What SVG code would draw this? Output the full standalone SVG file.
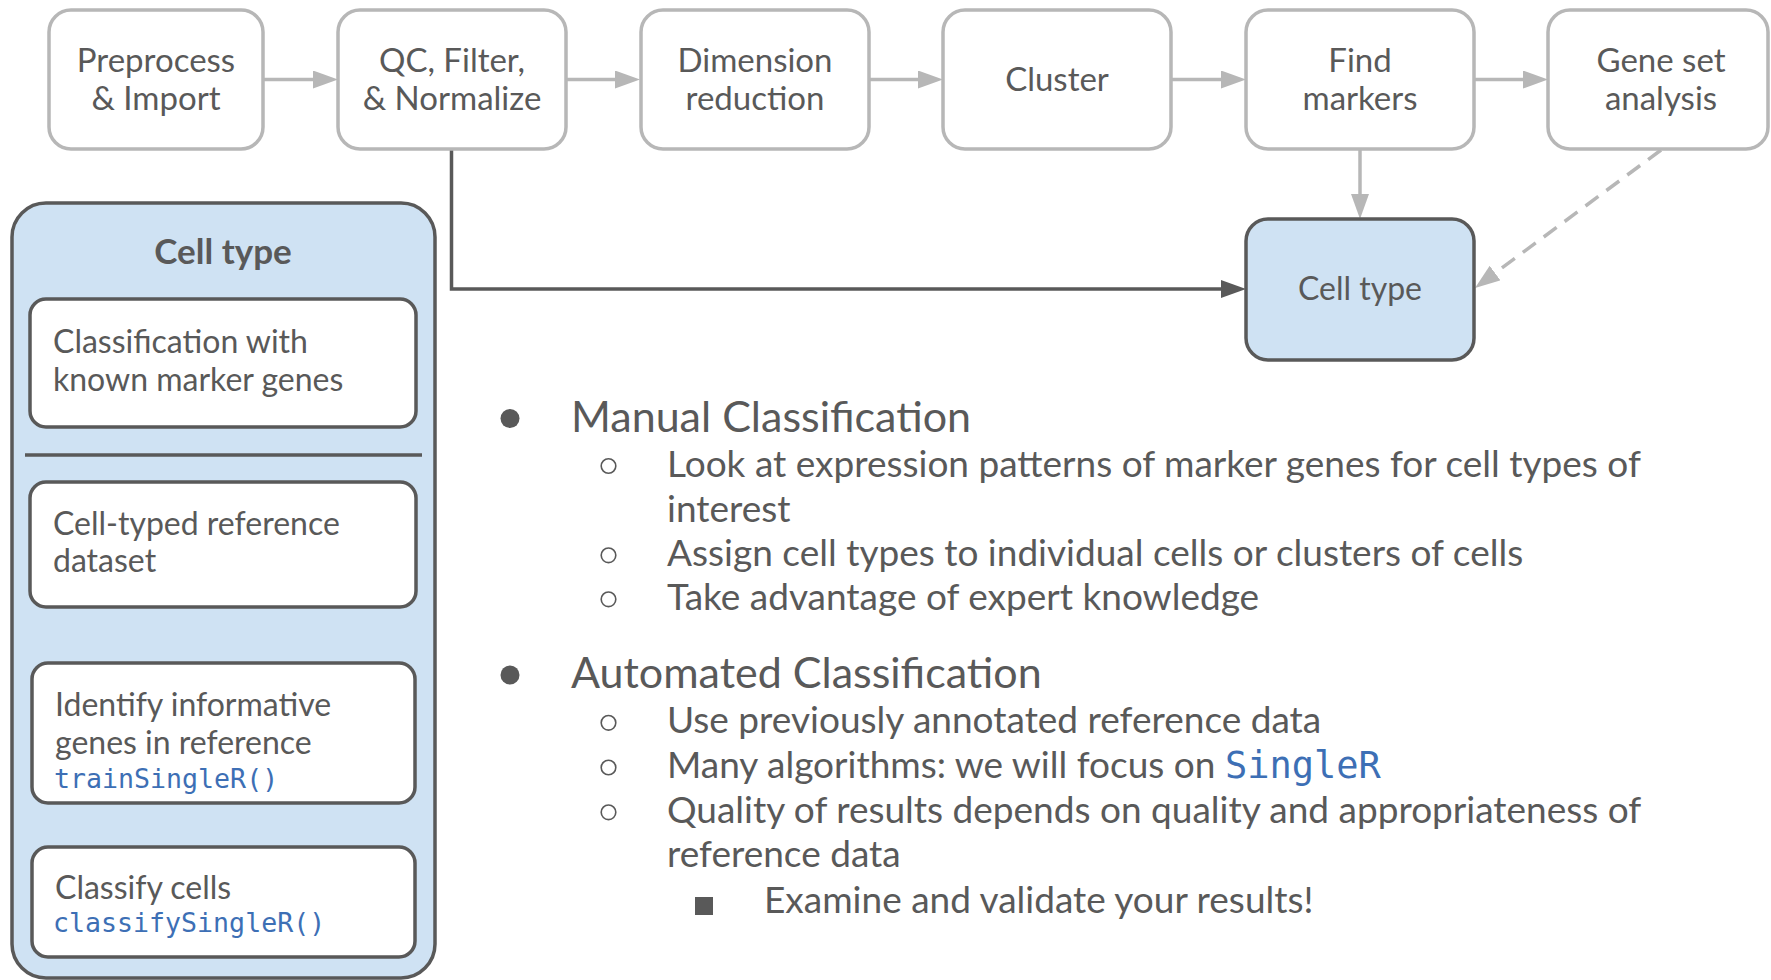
<svg xmlns="http://www.w3.org/2000/svg" width="1771" height="980" viewBox="0 0 1771 980">
<defs>
<style>
text{font-family:Lato,"Liberation Sans",sans-serif;fill:#595959}
.step{fill:#ffffff;stroke:#b7b7b7;stroke-width:3.5}
.ct{fill:#cfe2f3;stroke:#595959;stroke-width:3.5}
.inner{fill:#ffffff;stroke:#595959;stroke-width:3.5}
.lt{fill:none;stroke:#b7b7b7;stroke-width:3.5}
.dk{fill:none;stroke:#595959;stroke-width:3.5}
.t32{font-size:32px}
.t33{font-size:33px}
.big{font-size:43px}
.sub{font-size:37px}
.mono{font-family:"DejaVu Sans Mono","Liberation Mono",monospace;fill:#3d6fb5}
.pm{font-size:26.6px}
</style>
<marker id="al" markerUnits="userSpaceOnUse" markerWidth="26" markerHeight="20" refX="17" refY="9" orient="auto"><path d="M0,0 L25,9 L0,18 z" fill="#b7b7b7"/></marker>
<marker id="ad" markerUnits="userSpaceOnUse" markerWidth="26" markerHeight="20" refX="17" refY="9" orient="auto"><path d="M0,0 L25,9 L0,18 z" fill="#595959"/></marker>
</defs>
<rect width="1771" height="980" fill="#ffffff"/>

<g id="connectors">
<line class="lt" x1="263" y1="79.5" x2="330" y2="79.5" marker-end="url(#al)"/>
<line class="lt" x1="566" y1="79.5" x2="632" y2="79.5" marker-end="url(#al)"/>
<line class="lt" x1="869" y1="79.5" x2="935" y2="79.5" marker-end="url(#al)"/>
<line class="lt" x1="1171" y1="79.5" x2="1238" y2="79.5" marker-end="url(#al)"/>
<line class="lt" x1="1474" y1="79.5" x2="1540" y2="79.5" marker-end="url(#al)"/>
<line class="lt" x1="1360" y1="149" x2="1360" y2="211" marker-end="url(#al)"/>
<line class="lt" x1="1661" y1="150" x2="1481.4" y2="283.2" stroke-dasharray="16,10" marker-end="url(#al)"/>
<path class="dk" d="M451.5,149 V289 H1238" marker-end="url(#ad)"/>
<line class="dk" x1="223" y1="607" x2="223" y2="655" marker-end="url(#ad)"/>
<line class="dk" x1="223" y1="803" x2="223" y2="839" marker-end="url(#ad)"/>
</g>

<g id="preprocess">
<rect class="step" x="49" y="10" width="214" height="139" rx="22"/>
<text class="t33" x="156" y="72" text-anchor="middle">Preprocess</text>
<text class="t33" x="156" y="110" text-anchor="middle">&amp; Import</text>
</g>
<g id="qc">
<rect class="step" x="338" y="10" width="228" height="139" rx="22"/>
<text class="t33" x="452" y="72" text-anchor="middle">QC, Filter,</text>
<text class="t33" x="452" y="110" text-anchor="middle">&amp; Normalize</text>
</g>
<g id="dimred">
<rect class="step" x="641" y="10" width="228" height="139" rx="22"/>
<text class="t33" x="755" y="72" text-anchor="middle">Dimension</text>
<text class="t33" x="755" y="110" text-anchor="middle">reduction</text>
</g>
<g id="cluster">
<rect class="step" x="943" y="10" width="228" height="139" rx="22"/>
<text class="t33" x="1057" y="91" text-anchor="middle">Cluster</text>
</g>
<g id="findmarkers">
<rect class="step" x="1246" y="10" width="228" height="139" rx="22"/>
<text class="t33" x="1360" y="72" text-anchor="middle">Find</text>
<text class="t33" x="1360" y="110" text-anchor="middle">markers</text>
</g>
<g id="geneset">
<rect class="step" x="1548" y="10" width="220" height="139" rx="22"/>
<text class="t33" x="1661" y="72" text-anchor="middle">Gene set</text>
<text class="t33" x="1661" y="110" text-anchor="middle">analysis</text>
</g>
<g id="celltype">
<rect class="ct" x="1246" y="219" width="228" height="141" rx="22"/>
<text class="t32" x="1360" y="300" text-anchor="middle">Cell type</text>
</g>

<g id="panel">
<rect class="ct" x="12" y="203" width="423" height="775" rx="34"/>
<text x="223" y="264" text-anchor="middle" font-size="35" font-weight="bold">Cell type</text>
<line class="dk" x1="25" y1="455" x2="422" y2="455"/>
</g>
<g id="markerclass">
<rect class="inner" x="30" y="299" width="386" height="128" rx="16"/>
<text class="t32" x="53" y="353">Classification with</text>
<text class="t32" x="53" y="391">known marker genes</text>
</g>
<g id="refdata">
<rect class="inner" x="30" y="482" width="386" height="125" rx="16"/>
<text class="t32" x="53" y="535">Cell-typed reference</text>
<text class="t32" x="53" y="572">dataset</text>
</g>
<g id="train">
<rect class="inner" x="32" y="663" width="383" height="140" rx="16"/>
<text class="t32" x="55" y="716">Identify informative</text>
<text class="t32" x="55" y="754">genes in reference</text>
<text class="mono pm" x="54" y="788">trainSingleR()</text>
</g>
<g id="classify">
<rect class="inner" x="32" y="847" width="383" height="110" rx="16"/>
<text class="t32" x="55" y="899">Classify cells</text>
<text class="mono pm" x="53" y="932">classifySingleR()</text>
</g>

<g id="bullets">
<circle cx="510" cy="418.5" r="9.5" fill="#595959"/>
<text class="big" x="571" y="431.7">Manual Classification</text>
<circle cx="608.5" cy="466" r="7.3" fill="none" stroke="#595959" stroke-width="1.6"/>
<text class="sub" x="667" y="476.7">Look at expression patterns of marker genes for cell types of</text>
<text class="sub" x="667" y="521.7">interest</text>
<circle cx="608.5" cy="555.3" r="7.3" fill="none" stroke="#595959" stroke-width="1.6"/>
<text class="sub" x="667" y="566">Assign cell types to individual cells or clusters of cells</text>
<circle cx="608.5" cy="599.3" r="7.3" fill="none" stroke="#595959" stroke-width="1.6"/>
<text class="sub" x="667" y="610">Take advantage of expert knowledge</text>
<circle cx="510" cy="675" r="9.5" fill="#595959"/>
<text class="big" x="571" y="688.3">Automated Classification</text>
<circle cx="608.5" cy="722.8" r="7.3" fill="none" stroke="#595959" stroke-width="1.6"/>
<text class="sub" x="667" y="733.3">Use previously annotated reference data</text>
<circle cx="608.5" cy="767.5" r="7.3" fill="none" stroke="#595959" stroke-width="1.6"/>
<text class="sub" x="667" y="778">Many algorithms: we will focus on <tspan class="mono">SingleR</tspan></text>
<circle cx="608.5" cy="812.3" r="7.3" fill="none" stroke="#595959" stroke-width="1.6"/>
<text class="sub" x="667" y="823">Quality of results depends on quality and appropriateness of</text>
<text class="sub" x="667" y="866.7">reference data</text>
<rect x="695" y="897" width="18" height="18" fill="#595959"/>
<text class="sub" x="764" y="913">Examine and validate your results!</text>
</g>
</svg>
